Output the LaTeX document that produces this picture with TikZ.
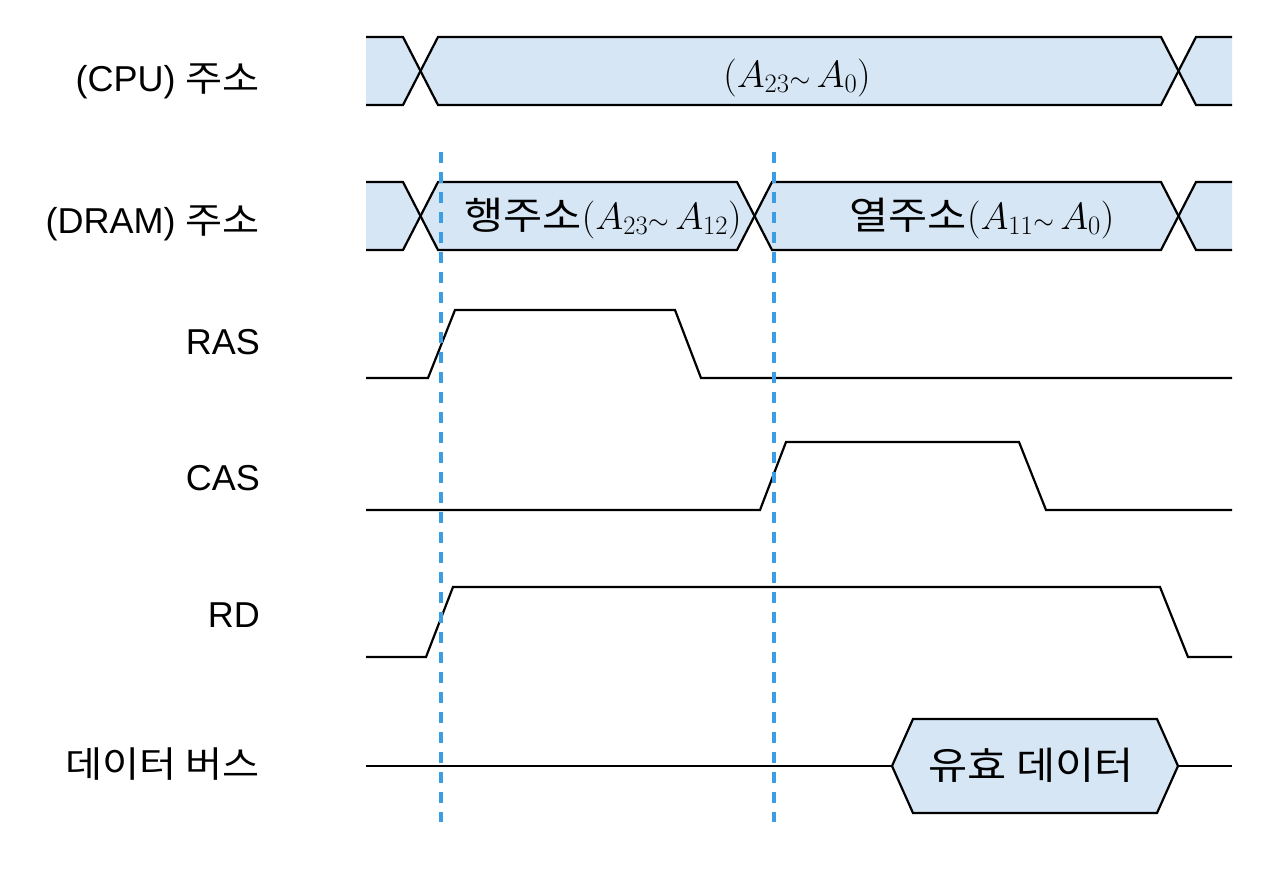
\RequirePackage{fix-cm}
\documentclass[tikz,border=0pt]{standalone}
\usepackage{fontspec}
\setmainfont{Liberation Sans}
\newfontfamily\kr[FakeStretch=1.12]{Noto Sans CJK KR}
\definecolor{busblue}{RGB}{214,230,245}
\definecolor{guideblue}{RGB}{59,157,227}
\begin{document}
\begin{tikzpicture}[x=1pt,y=-1pt,
  sig/.style={line width=2.2pt, line join=miter, line cap=butt},
  busfill/.style={fill=busblue, draw=none},
  guide/.style={guideblue, line width=3.5pt, dash pattern=on 11pt off 9pt},
  lbl/.style={anchor=base east, inner sep=0pt, font=\fontsize{36}{40}\selectfont},
  txt/.style={anchor=base, inner sep=0pt, font=\fontsize{38}{44}\selectfont}]
\fill[white] (0,0) rectangle (1266,870);
\useasboundingbox (0,0) rectangle (1266,870);

% ---- CPU address ----
\fill[busfill] (366,37) -- (403,37) -- (420.5,71) -- (403,105) -- (366,105) -- cycle;
\fill[busfill] (420.5,71) -- (438,37) -- (1161,37) -- (1178.5,71) -- (1161,105) -- (438,105) -- cycle;
\fill[busfill] (1178.5,71) -- (1196,37) -- (1232,37) -- (1232,105) -- (1196,105) -- cycle;
\draw[sig] (366,37) -- (403,37) -- (438,105) -- (1161,105) -- (1196,37) -- (1232,37);
\draw[sig] (366,105) -- (403,105) -- (438,37) -- (1161,37) -- (1196,105) -- (1232,105);

% ---- DRAM address ----
\fill[busfill] (366,182) -- (403,182) -- (420.5,216) -- (403,250) -- (366,250) -- cycle;
\fill[busfill] (420.5,216) -- (438,182) -- (737,182) -- (754.5,216) -- (737,250) -- (438,250) -- cycle;
\fill[busfill] (754.5,216) -- (772,182) -- (1161,182) -- (1178.5,216) -- (1161,250) -- (772,250) -- cycle;
\fill[busfill] (1178.5,216) -- (1196,182) -- (1232,182) -- (1232,250) -- (1196,250) -- cycle;
\draw[sig] (366,182) -- (403,182) -- (438,250) -- (737,250) -- (772,182) -- (1161,182) -- (1196,250) -- (1232,250);
\draw[sig] (366,250) -- (403,250) -- (438,182) -- (737,182) -- (772,250) -- (1161,250) -- (1196,182) -- (1232,182);

% ---- RAS / CAS / RD ----
\draw[sig] (366,378) -- (428,378) -- (455,310) -- (675,310) -- (701,378) -- (1232,378);
\draw[sig] (366,510) -- (760,510) -- (786,442) -- (1019,442) -- (1046,510) -- (1232,510);
\draw[sig] (366,657) -- (426,657) -- (453,587) -- (1160,587) -- (1188,657) -- (1232,657);

% ---- data bus ----
\draw[sig] (366,766) -- (892,766);
\draw[sig, fill=busblue] (892,766) -- (913,719) -- (1157,719) -- (1178,766) -- (1157,813) -- (913,813) -- cycle;
\draw[sig] (1178,766) -- (1232,766);

% ---- guides ----
\draw[guide] (441,152) -- (441,822);
\draw[guide] (774,152) -- (774,822);

% ---- labels ----
\node[lbl] (lcpu) at (260,91) {(CPU) {\kr 주소}};
\node[lbl] (ldram) at (260,233) {(DRAM) {\kr 주소}};
\node[lbl] (lras) at (260,354) {RAS};
\node[lbl] (lcas) at (260,490) {CAS};
\node[lbl] (lrd) at (260,627) {RD};
\node[lbl] (lbus) at (260,777) {\kr 데이터 버스};

% ---- texts in the buses ----
\node[txt] (tcpu) at (797,87) {$(A_{23}{\scriptstyle\sim}\,A_0)$};
\node[txt] (trow) at (603,229) {{\kr 행주소}$(A_{23}{\scriptstyle\sim}\,A_{12})$};
\node[txt] (tcol) at (982,229) {{\kr 열주소}$(A_{11}{\scriptstyle\sim}\,A_0)$};
\node[txt] (tdata) at (1031,779) {\kr 유효 데이터};
\end{tikzpicture}
\end{document}
